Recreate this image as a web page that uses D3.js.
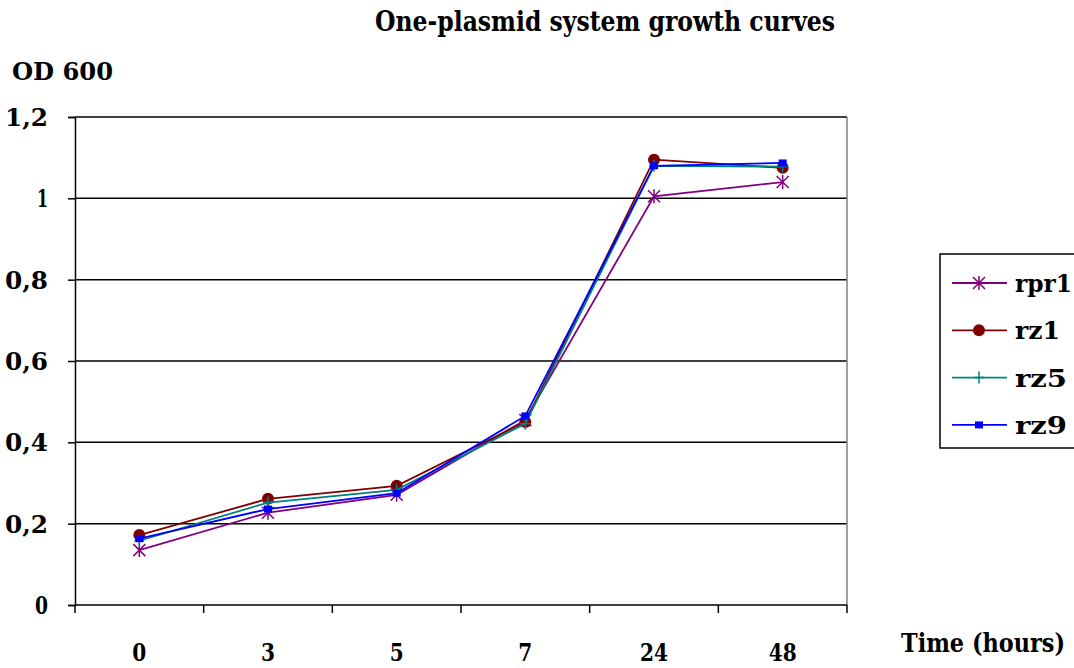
<!DOCTYPE html>
<html>
<head>
<meta charset="utf-8">
<script src="https://cdn.jsdelivr.net/npm/d3@7"></script>
<style>
  html, body { margin: 0; padding: 0; background: #fff; }
  svg { display: block; }
  text { font-family: "DejaVu Serif Condensed", "DejaVu Serif", serif; font-weight: bold; fill: #000; }
</style>
</head>
<body>
<svg id="chart" width="1074" height="668"></svg>
<script>
// Sampling times (hours) shown as evenly spaced categories
const times = ["0", "3", "5", "7", "24", "48"];

// OD600 readings per strain
const rpr1 = [0.135, 0.227, 0.271, 0.455, 1.005, 1.040];
const rz1  = [0.172, 0.261, 0.293, 0.450, 1.095, 1.075];
const rz5  = [0.158, 0.252, 0.283, 0.446, 1.080, 1.078];
const rz9  = [0.163, 0.236, 0.275, 0.465, 1.080, 1.087];

const yTicks = [0, 0.2, 0.4, 0.6, 0.8, 1.0, 1.2];

const series = [
  { name: "rpr1", values: rpr1, color: "#800080", marker: "asterisk" },
  { name: "rz1",  values: rz1,  color: "#800000", marker: "circle" },
  { name: "rz5",  values: rz5,  color: "#008080", marker: "plus" },
  { name: "rz9",  values: rz9,  color: "#0000FF", marker: "square" }
];

const svg = d3.select("#chart");
const plot = { left: 75, right: 847, top: 117, bottom: 605 };

const x = d3.scaleBand().domain(times).range([plot.left, plot.right]).padding(0);
const y = d3.scaleLinear().domain([0, 1.2]).range([plot.bottom, plot.top]);
const fmt = v => d3.format(".1~f")(v).replace(".", ",");

// Squeeze a label to a given width so the condensed lettering fits
const squeeze = (sel, w) => sel.attr("textLength", w).attr("lengthAdjust", "spacingAndGlyphs");

// Title and axis titles
squeeze(svg.append("text").attr("x", 375).attr("y", 31)
  .attr("font-size", 27).text("One-plasmid system growth curves"), 460);
squeeze(svg.append("text").attr("x", 12).attr("y", 80).attr("font-size", 25).text("OD 600"), 101);
squeeze(svg.append("text").attr("x", 901).attr("y", 652).attr("font-size", 26).text("Time (hours)"), 164);

// Horizontal gridlines
svg.append("g").selectAll("line").data(yTicks.filter(d => d > 0)).join("line")
  .attr("x1", plot.left).attr("x2", plot.right)
  .attr("y1", d => y(d)).attr("y2", d => y(d))
  .attr("stroke", "#000").attr("stroke-width", 1.5);

// Right plot border
svg.append("line").attr("x1", plot.right).attr("x2", plot.right)
  .attr("y1", plot.top).attr("y2", plot.bottom)
  .attr("stroke", "#808080").attr("stroke-width", 1.5);

// Y axis
const yAxis = svg.append("g").attr("transform", `translate(${plot.left},0)`)
  .call(d3.axisLeft(y).tickValues(yTicks).tickFormat(fmt).tickSize(7).tickPadding(20));
yAxis.select(".domain").attr("stroke", "#000").attr("stroke-width", 1.5);
yAxis.selectAll(".tick line").attr("stroke", "#000").attr("stroke-width", 1.5);
yAxis.selectAll(".tick text").attr("font-size", 24).attr("dy", "0.36em")
  .each(function(d) {
    const w = d === 0 ? 13 : (d === 1 ? 11 : 43);
    squeeze(d3.select(this), w);
  });

// X axis: ticks sit between categories
const xAxis = svg.append("g").attr("transform", `translate(0,${plot.bottom})`);
xAxis.append("line").attr("x1", plot.left).attr("x2", plot.right)
  .attr("stroke", "#000").attr("stroke-width", 1.5);
const bounds = times.map(t => x(t)).concat([plot.right]);
xAxis.selectAll("line.tk").data(bounds).join("line").attr("class", "tk")
  .attr("x1", d => d).attr("x2", d => d).attr("y1", 0).attr("y2", 8)
  .attr("stroke", "#000").attr("stroke-width", 1.5);
xAxis.selectAll("text").data(times).join("text")
  .attr("x", d => x(d) + x.bandwidth() / 2).attr("y", 56)
  .attr("text-anchor", "middle").attr("font-size", 24)
  .each(function(d) { squeeze(d3.select(this), d.length > 1 ? 28 : 14); })
  .text(d => d);

const cx = t => x(t) + x.bandwidth() / 2;
const line = d3.line().x((d, i) => cx(times[i])).y(d => y(d));

function drawMarker(g, type, color) {
  if (type === "circle") {
    g.append("circle").attr("r", 6).attr("fill", color);
  } else if (type === "square") {
    g.append("rect").attr("x", -4).attr("y", -3.5).attr("width", 8).attr("height", 7).attr("fill", color);
  } else if (type === "plus") {
    g.append("path").attr("d", "M-5,0H5M0,-6V6").attr("stroke", color).attr("stroke-width", 1.5);
  } else if (type === "asterisk") {
    g.append("path").attr("d", "M-6,-6L6,6M-6,6L6,-6M0,-7V7").attr("stroke", color).attr("stroke-width", 1.5);
  }
}

// Series lines and markers
series.forEach(s => {
  svg.append("path").datum(s.values).attr("d", line)
    .attr("fill", "none").attr("stroke", s.color).attr("stroke-width", 1.8);
  s.values.forEach((v, i) => {
    const g = svg.append("g").attr("transform", `translate(${cx(times[i])},${y(v)})`);
    drawMarker(g, s.marker, s.color);
  });
});

// Legend
const legendWidths = { rpr1: 57, rz1: 45, rz5: 52, rz9: 52 };
const legend = svg.append("g");
legend.append("rect").attr("x", 940).attr("y", 254).attr("width", 140).attr("height", 194)
  .attr("fill", "#fff").attr("stroke", "#000").attr("stroke-width", 1.5);
series.forEach((s, i) => {
  const ly = 283 + i * 47.3;
  legend.append("line").attr("x1", 952).attr("x2", 1007).attr("y1", ly).attr("y2", ly)
    .attr("stroke", s.color).attr("stroke-width", 1.8);
  drawMarker(legend.append("g").attr("transform", `translate(979,${ly})`), s.marker, s.color);
  squeeze(legend.append("text").attr("x", 1015).attr("y", ly + 9).attr("font-size", 25).text(s.name),
    legendWidths[s.name]);
});
</script>
</body>
</html>
